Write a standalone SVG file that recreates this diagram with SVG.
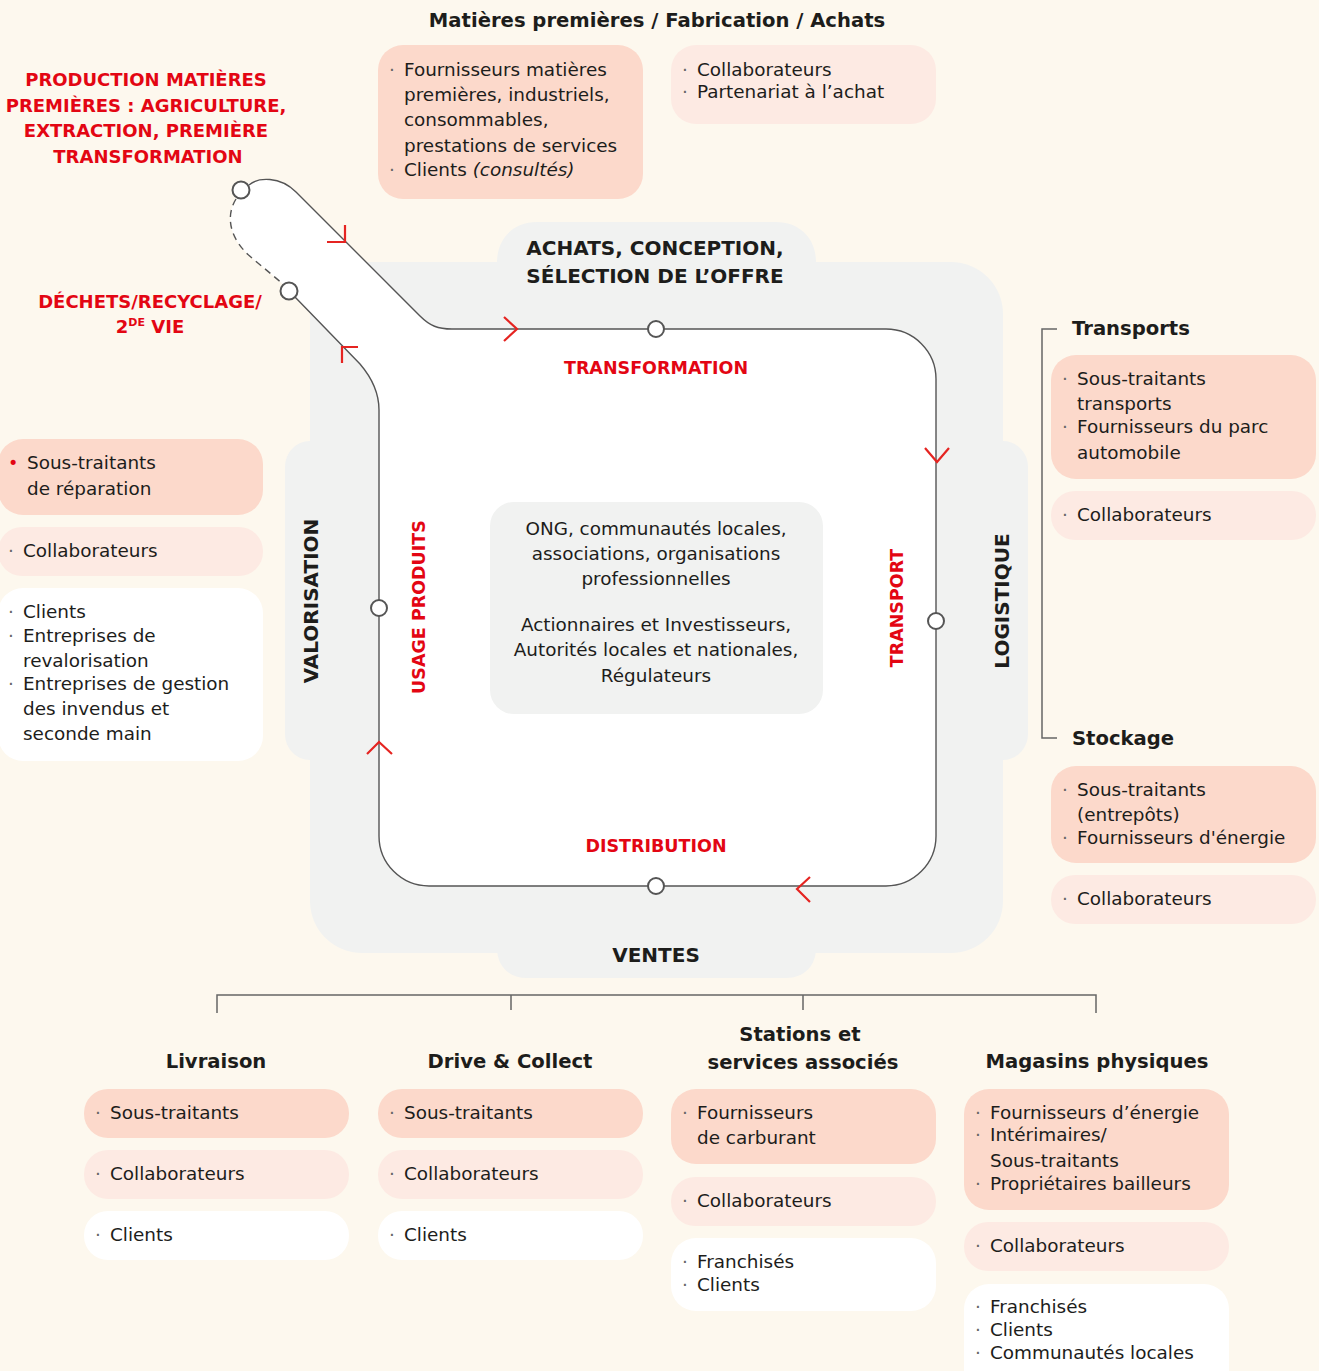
<svg xmlns="http://www.w3.org/2000/svg" width="1319" height="1371" viewBox="0 0 1319 1371">
<defs>
<style>
text{font-family:"DejaVu Sans",sans-serif;fill:#1d1d1b}
.t{font-size:18.4px}
.h{font-size:19.6px;font-weight:bold}
.k{font-size:20px;font-weight:bold}
.r{fill:#E30613;font-weight:bold;font-size:17.5px}
.d{fill:#666;font-size:18.4px}
.rd{fill:#E30613;font-size:17.5px}
.s{fill:#FCD9CB}
.p{fill:#FDEAE3}
.w{fill:#FFFFFF}
.g{fill:#F1F2F1}
.ln{fill:none;stroke:#555;stroke-width:1.4}
.br{fill:none;stroke:#666;stroke-width:1.5}
.ar{fill:none;stroke:#E52421;stroke-width:2.2}
.nd{fill:#fff;stroke:#555;stroke-width:2}
.c{text-anchor:middle}
</style>
</defs>
<rect width="1319" height="1371" fill="#FDF8EE"/>

<g id="gray-area">
<rect class="g" x="310" y="262" width="693" height="691" rx="52"/>
<path class="g" d="M497,262 L497,262 C497,240 512,222 537,222 L776,222 C801,222 816,240 816,262 Z"/>
<path class="g" d="M497,953 L816,953 L816,948 C816,966 804,978 786,978 L527,978 C509,978 497,966 497,948 Z"/>
<path class="g" d="M310,441 L310,760 L310,760 C296,760 285,748 285,734 L285,467 C285,453 296,441 310,441 Z"/>
<path class="g" d="M1003,441 C1017,441 1028,453 1028,467 L1028,734 C1028,748 1017,760 1003,760 Z"/>
</g>

<g id="loop">
<path fill="#fff" d="M240,190 C250,178 278,172 296,192 L420,316 C430,326 438,329 452,329 L886,329 A50,50 0 0 1 936,379 L936,836 A50,50 0 0 1 886,886 L429,886 A50,50 0 0 1 379,836 L379,410 C379,392 372,378 360,364 L289,291 L283,284 L252,258 C228,238 226,215 236,199 Z"/>
</g>

<g id="connectors">
<path class="ln" d="M249,185 C258,177 280,176 296,192 L420,316 C430,326 438,329 452,329 L886,329 A50,50 0 0 1 936,379 L936,836 A50,50 0 0 1 886,886 L429,886 A50,50 0 0 1 379,836 L379,410 C379,392 372,378 360,364 L295,297"/>
<path class="ln" stroke-dasharray="7,5" d="M236,199 C226,215 228,238 252,258 L283,284"/>
<path class="ar" d="M327,242 L345,242 L345,225"/>
<path class="ar" d="M504,317 L517,329 L504,341"/>
<path class="ar" d="M925,448 L937,462 L949,448"/>
<path class="ar" d="M810,877 L797,889 L810,902"/>
<path class="ar" d="M367,754 L379,742 L392,754"/>
<path class="ar" d="M342,363 L342,347 L358,347"/>
<path class="br" d="M1057,329 L1042,329 L1042,738 L1057,738"/>
<path class="br" d="M217,1013 L217,995 L1096,995 L1096,1013 M511,995 L511,1010 M803,995 L803,1010"/>
</g>

<g id="nodes-on-loop">
<circle class="nd" cx="241" cy="190" r="8.5"/>
<circle class="nd" cx="289" cy="291" r="8.5"/>
<circle class="nd" cx="656" cy="329" r="8"/>
<circle class="nd" cx="936" cy="621" r="8"/>
<circle class="nd" cx="656" cy="886" r="8"/>
<circle class="nd" cx="379" cy="608" r="8"/>
</g>

<g id="stage-labels">
<text class="k c" x="655" y="255">ACHATS, CONCEPTION,</text>
<text class="k c" x="655" y="283">SÉLECTION DE L’OFFRE</text>
<text class="k c" x="656" y="962">VENTES</text>
<text class="k c" transform="translate(318,601) rotate(-90)">VALORISATION</text>
<text class="k c" transform="translate(1009,601) rotate(-90)">LOGISTIQUE</text>
<text class="r c" x="656" y="374">TRANSFORMATION</text>
<text class="r c" x="656" y="852">DISTRIBUTION</text>
<text class="r c" transform="translate(425,607) rotate(-90)">USAGE PRODUITS</text>
<text class="r c" transform="translate(903,608) rotate(-90)">TRANSPORT</text>
<text class="r c" style="font-size:18px" x="146" y="86">PRODUCTION MATIÈRES</text>
<text class="r c" style="font-size:18px" x="146" y="112">PREMIÈRES : AGRICULTURE,</text>
<text class="r c" style="font-size:18px" x="146" y="137">EXTRACTION, PREMIÈRE</text>
<text class="r c" style="font-size:18px" x="148" y="163">TRANSFORMATION</text>
<text class="r c" style="font-size:18px" x="150" y="308">DÉCHETS/RECYCLAGE/</text>
<text class="r c" style="font-size:18px" x="150" y="333">2<tspan style="font-size:11px" dy="-7">DE</tspan><tspan dy="7"> VIE</tspan></text>
</g>

<g id="center-box">
<rect class="g" x="490" y="502" width="333" height="212" rx="24"/>
<text class="t c" x="656" y="535">ONG, communautés locales,</text>
<text class="t c" x="656" y="560">associations, organisations</text>
<text class="t c" x="656" y="585">professionnelles</text>
<text class="t c" x="656" y="631">Actionnaires et Investisseurs,</text>
<text class="t c" x="656" y="656">Autorités locales et nationales,</text>
<text class="t c" x="656" y="682">Régulateurs</text>
</g>

<g id="top-group">
<text class="h c" x="657" y="27">Matières premières / Fabrication / Achats</text>
<rect class="s" x="378" y="45" width="265" height="154" rx="25"/>
<text class="d" x="389" y="76">·</text><text class="t" x="404" y="76">Fournisseurs matières</text>
<text class="t" x="404" y="101">premières, industriels,</text>
<text class="t" x="404" y="126">consommables,</text>
<text class="t" x="404" y="152">prestations de services</text>
<text class="d" x="389" y="176">·</text><text class="t" x="404" y="176">Clients <tspan font-style="italic">(consultés)</tspan></text>
<rect class="p" x="671" y="45" width="265" height="79" rx="25"/>
<text class="d" x="682" y="76">·</text><text class="t" x="697" y="76">Collaborateurs</text>
<text class="d" x="682" y="98">·</text><text class="t" x="697" y="98">Partenariat à l’achat</text>
</g>

<g id="left-group">
<rect class="s" x="-2" y="439" width="265" height="76" rx="25"/>
<text class="rd" x="8" y="469">•</text><text class="t" x="27" y="469">Sous-traitants</text>
<text class="t" x="27" y="495">de réparation</text>
<rect class="p" x="-2" y="527" width="265" height="49" rx="24"/>
<text class="d" x="8" y="557">·</text><text class="t" x="23" y="557">Collaborateurs</text>
<rect class="w" x="-2" y="588" width="265" height="173" rx="25"/>
<text class="d" x="8" y="618">·</text><text class="t" x="23" y="618">Clients</text>
<text class="d" x="8" y="642">·</text><text class="t" x="23" y="642">Entreprises de</text>
<text class="t" x="23" y="667">revalorisation</text>
<text class="d" x="8" y="690">·</text><text class="t" x="23" y="690">Entreprises de gestion</text>
<text class="t" x="23" y="715">des invendus et</text>
<text class="t" x="23" y="740">seconde main</text>
</g>

<g id="transports-group">
<text class="h" x="1072" y="335">Transports</text>
<rect class="s" x="1051" y="355" width="265" height="124" rx="25"/>
<text class="d" x="1062" y="385">·</text><text class="t" x="1077" y="385">Sous-traitants</text>
<text class="t" x="1077" y="410">transports</text>
<text class="d" x="1062" y="433">·</text><text class="t" x="1077" y="433">Fournisseurs du parc</text>
<text class="t" x="1077" y="459">automobile</text>
<rect class="p" x="1051" y="491" width="265" height="49" rx="24"/>
<text class="d" x="1062" y="521">·</text><text class="t" x="1077" y="521">Collaborateurs</text>
</g>

<g id="stockage-group">
<text class="h" x="1072" y="745">Stockage</text>
<rect class="s" x="1051" y="766" width="265" height="97" rx="25"/>
<text class="d" x="1062" y="796">·</text><text class="t" x="1077" y="796">Sous-traitants</text>
<text class="t" x="1077" y="821">(entrepôts)</text>
<text class="d" x="1062" y="844">·</text><text class="t" x="1077" y="844">Fournisseurs d'énergie</text>
<rect class="p" x="1051" y="875" width="265" height="49" rx="24"/>
<text class="d" x="1062" y="905">·</text><text class="t" x="1077" y="905">Collaborateurs</text>
</g>

<g id="livraison-group">
<text class="h c" x="216" y="1068">Livraison</text>
<rect class="s" x="84" y="1089" width="265" height="49" rx="24"/>
<text class="d" x="95" y="1119">·</text><text class="t" x="110" y="1119">Sous-traitants</text>
<rect class="p" x="84" y="1150" width="265" height="49" rx="24"/>
<text class="d" x="95" y="1180">·</text><text class="t" x="110" y="1180">Collaborateurs</text>
<rect class="w" x="84" y="1211" width="265" height="49" rx="24"/>
<text class="d" x="95" y="1241">·</text><text class="t" x="110" y="1241">Clients</text>
</g>

<g id="drive-group">
<text class="h c" x="510" y="1068">Drive &amp; Collect</text>
<rect class="s" x="378" y="1089" width="265" height="49" rx="24"/>
<text class="d" x="389" y="1119">·</text><text class="t" x="404" y="1119">Sous-traitants</text>
<rect class="p" x="378" y="1150" width="265" height="49" rx="24"/>
<text class="d" x="389" y="1180">·</text><text class="t" x="404" y="1180">Collaborateurs</text>
<rect class="w" x="378" y="1211" width="265" height="49" rx="24"/>
<text class="d" x="389" y="1241">·</text><text class="t" x="404" y="1241">Clients</text>
</g>

<g id="stations-group">
<text class="h c" x="800" y="1041">Stations et</text>
<text class="h c" x="803" y="1069">services associés</text>
<rect class="s" x="671" y="1089" width="265" height="75" rx="25"/>
<text class="d" x="682" y="1119">·</text><text class="t" x="697" y="1119">Fournisseurs</text>
<text class="t" x="697" y="1144">de carburant</text>
<rect class="p" x="671" y="1177" width="265" height="49" rx="24"/>
<text class="d" x="682" y="1207">·</text><text class="t" x="697" y="1207">Collaborateurs</text>
<rect class="w" x="671" y="1238" width="265" height="73" rx="25"/>
<text class="d" x="682" y="1268">·</text><text class="t" x="697" y="1268">Franchisés</text>
<text class="d" x="682" y="1291">·</text><text class="t" x="697" y="1291">Clients</text>
</g>

<g id="magasins-group">
<text class="h c" x="1097" y="1068">Magasins physiques</text>
<rect class="s" x="964" y="1089" width="265" height="121" rx="25"/>
<text class="d" x="975" y="1119">·</text><text class="t" x="990" y="1119">Fournisseurs d’énergie</text>
<text class="d" x="975" y="1141">·</text><text class="t" x="990" y="1141">Intérimaires/</text>
<text class="t" x="990" y="1167">Sous-traitants</text>
<text class="d" x="975" y="1190">·</text><text class="t" x="990" y="1190">Propriétaires bailleurs</text>
<rect class="p" x="964" y="1222" width="265" height="49" rx="24"/>
<text class="d" x="975" y="1252">·</text><text class="t" x="990" y="1252">Collaborateurs</text>
<rect class="w" x="964" y="1284" width="265" height="110" rx="25"/>
<text class="d" x="975" y="1313">·</text><text class="t" x="990" y="1313">Franchisés</text>
<text class="d" x="975" y="1336">·</text><text class="t" x="990" y="1336">Clients</text>
<text class="d" x="975" y="1359">·</text><text class="t" x="990" y="1359">Communautés locales</text>
</g>
</svg>
